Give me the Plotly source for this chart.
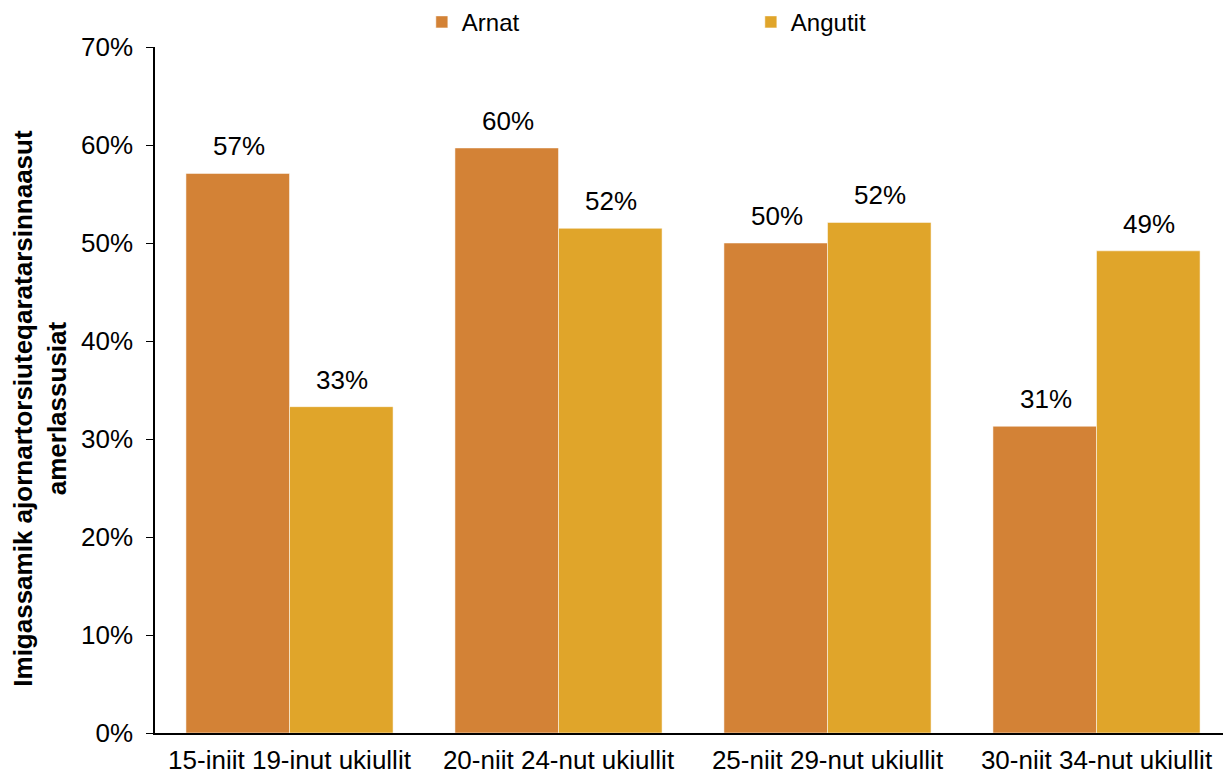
"""
Arnat / Angutit grouped bar chart
"""

import plotly.graph_objects as go

CATEGORIES = [
    "15-iniit 19-inut ukiullit",
    "20-niit 24-nut ukiullit",
    "25-niit 29-nut ukiullit",
    "30-niit 34-nut ukiullit",
]
ARNAT = [0.571, 0.597, 0.500, 0.313]
ANGUTIT = [0.333, 0.515, 0.521, 0.492]
Y_TICKS = [0, 0.1, 0.2, 0.3, 0.4, 0.5, 0.6, 0.7]
Y_TITLE = "<b>Imigassamik ajornartorsiuteqaratarsinnaasut<br>amerlassusiat</b>"

ARNAT_CLR = "#D38236"
ANGUTIT_CLR = "#E0A52A"
FONT = "Liberation Sans, Arial, sans-serif"

# the page body has an 8px margin, so the figure is a bit smaller than the window
WIDTH, HEIGHT = 1223, 767


def create_bar():
    fig = go.Figure()
    for name, vals, clr in [("Arnat", ARNAT, ARNAT_CLR), ("Angutit", ANGUTIT, ANGUTIT_CLR)]:
        fig.add_trace(
            go.Bar(
                x=CATEGORIES,
                y=vals,
                name=name,
                marker=dict(color=clr, line=dict(color="rgba(255,255,255,0.5)", width=1)),
                hovertemplate="%{x}<br>" + name + ": %{y:.0%}<extra></extra>",
            )
        )

    # value labels above bars
    for vals, shift in [(ARNAT, -51), (ANGUTIT, 52)]:
        for cat, v in zip(CATEGORIES, vals):
            fig.add_annotation(
                x=cat, y=v, text=f"{v:.0%}", showarrow=False,
                xshift=shift, yshift=10, yanchor="bottom",
                font=dict(size=26, color="black", family=FONT),
            )

    # y axis title (sits a little below the axis centre, as in the original)
    fig.add_annotation(
        text=Y_TITLE, textangle=-90, showarrow=False,
        xref="paper", yref="paper", x=-0.107, y=0.474,
        xanchor="center", yanchor="middle",
        font=dict(size=26, color="black", family=FONT),
    )

    fig.update_layout(
        width=WIDTH,
        height=HEIGHT,
        margin=dict(t=39, b=42, l=147, r=0, autoexpand=False),
        plot_bgcolor="white",
        paper_bgcolor="white",
        font=dict(family=FONT, size=26, color="black"),
        barmode="group",
        bargap=0.23,
        bargroupgap=0,
        showlegend=True,
        legend=dict(
            orientation="h",
            x=0.248, xanchor="left",
            y=1.036, yanchor="middle",
            entrywidth=284,
            font=dict(size=24),
            itemclick=False,
        ),
        xaxis=dict(
            showline=True, linecolor="black", linewidth=1.5,
            ticks="", ticklabelstandoff=3,
            tickfont=dict(size=26),
        ),
        yaxis=dict(
            range=[0, 0.7],
            tickvals=Y_TICKS,
            tickformat=".0%",
            showgrid=False,
            zeroline=False,
            showline=True, linecolor="black", linewidth=1.5,
            ticks="outside", ticklen=7, tickcolor="black",
            ticklabelstandoff=8,
            tickfont=dict(size=26),
        ),
    )
    return fig


def main():
    fig = create_bar()
    fig.write_html("out.html")


if __name__ == "__main__":
    main()
